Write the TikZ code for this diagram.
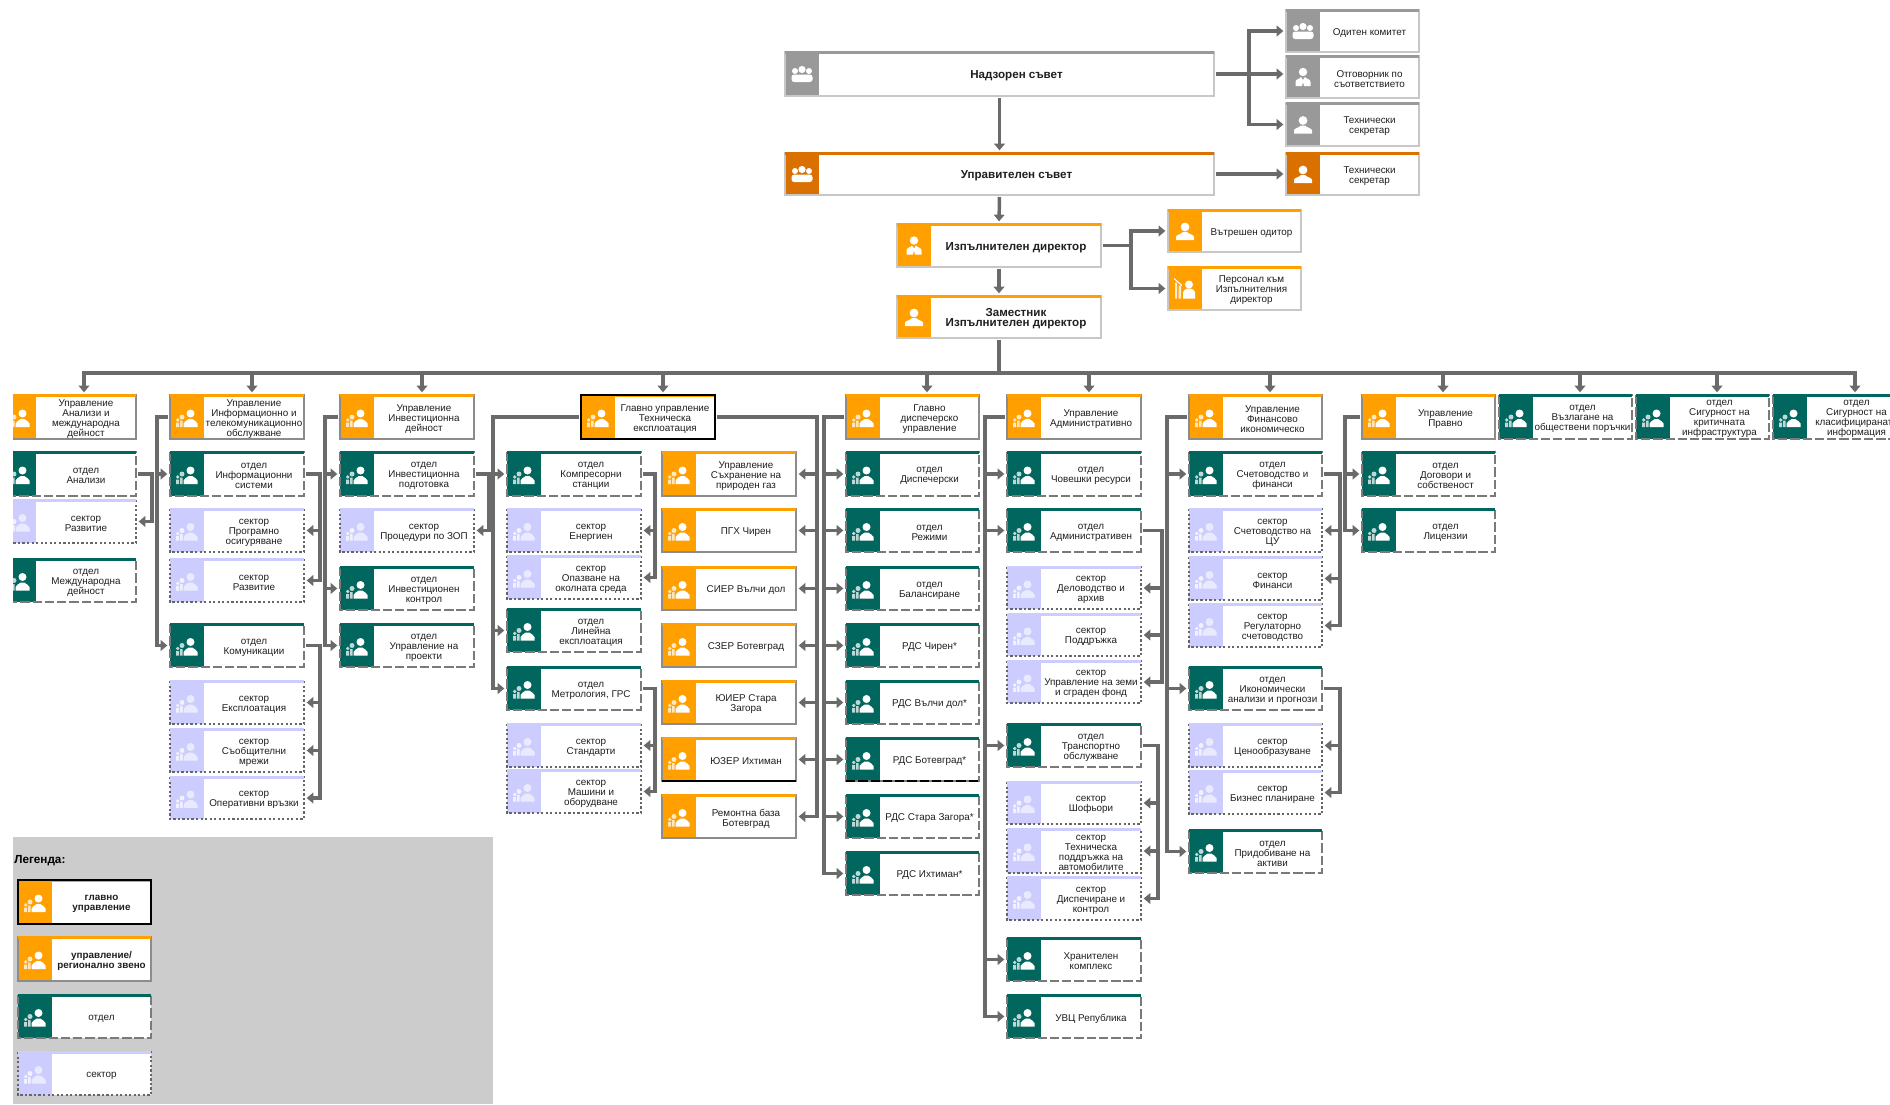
\documentclass[tikz,border=0pt]{standalone}
\usepackage{fontspec}
\setmainfont{Liberation Sans}
\usetikzlibrary{arrows.meta}
\definecolor{deptband}{HTML}{00665E}
\definecolor{secband}{HTML}{CCCCFF}
\definecolor{headband}{HTML}{FFA000}
\definecolor{mainband}{HTML}{FFA000}
\definecolor{topoband}{HTML}{FFA000}
\definecolor{gryband}{HTML}{999999}
\definecolor{dorband}{HTML}{D97000}
\definecolor{wirecol}{HTML}{6A6A6A}
\definecolor{legbg}{HTML}{CCCCCC}
\tikzset{
  cardbase/.style={rectangle,inner sep=0pt,outer sep=0pt,fill=white},
  headbox/.style={draw=black!45,line width=1.1pt},
  mainbox/.style={draw=black!45,line width=1.1pt},
  topobox/.style={draw=black!22,line width=1.1pt},
  grybox/.style={draw=black!22,line width=1.1pt},
  dorbox/.style={draw=black!22,line width=1.1pt},
  deptbox/.style={draw=black!52,line width=1.1pt,dash pattern=on 7pt off 2.2pt},
  secbox/.style={draw=black!60,line width=.9pt,dash pattern=on 1.7pt off 1.7pt},
  headic/.style={},mainic/.style={},topoic/.style={},gryic/.style={},doric/.style={},deptic/.style={},
  secic/.style={opacity=.6},
  txt/.style={align=center,inner sep=0pt,text=black!88,font=\fontsize{7.4}{7.5}\selectfont},
  wire/.style={draw=wirecol,line width=2.6pt,shorten <=1.5pt},
  arr/.style={wire,-{Triangle[width=8pt,length=5pt]},shorten >=2pt},
  blackrim/.style={draw=black,line width=1.9pt}
}
% icons, drawn round (0,0) in the band
\newcommand\icong{%
  \fill[white] (3.5,-3.5) circle (4);
  \fill[white] (-3.5,10) -- (-3.5,6.5) .. controls (-3.5,4.2) and (0,4.2) .. (1.8,2) -- (5.2,2) .. controls (7,4.2) and (10.5,4.2) .. (10.5,6.5) -- (10.5,10) -- cycle;
  \fill[white,opacity=.75] (-5,0) circle (2.5) (-9.3,3) circle (1.9);
  \fill[white,opacity=.75] (-7,3.5) rectangle (-4.5,10) (-11,5.5) rectangle (-8,10);
}
\newcommand\iconp{%
  \fill[white] (0,-4) circle (4.4);
  \fill[white] (-9,9) -- (-9,6) .. controls (-9,3.5) and (-4,3.5) .. (-2,1) -- (2,1) .. controls (4,3.5) and (9,3.5) .. (9,6) -- (9,9) -- cycle;
}
\newcommand\icons{%
  \fill[white] (0,-5) circle (4.2);
  \fill[white] (-7.5,9) -- (-7.5,5) .. controls (-7.5,2) and (-3,2) .. (-2,0) -- (0,3) -- (2,0) .. controls (3,2) and (7.5,2) .. (7.5,5) -- (7.5,9) -- (1,9) -- (0,5) -- (-1,9) -- cycle;
}
\newcommand\icont{%
  \fill[white] (0,-4.5) circle (3.6) (-7,-3) circle (3) (7,-3) circle (3);
  \fill[white,rounded corners=2pt] (-10.5,0.5) rectangle (10.5,8);
}
\newcommand\iconc{%
  \fill[white] (4,-4) circle (4);
  \fill[white] (-2,10) -- (-2,4) .. controls (-2,1.5) and (0,1.5) .. (2,0) -- (6,0) .. controls (8,1.5) and (10,1.5) .. (10,4) -- (10,10) -- cycle;
  \fill[white,opacity=.8] (-10,-6) rectangle (-8,10) (-6.5,-3) rectangle (-4,10);
  \draw[white,line width=.8pt] (-11,-10) -- (-3,-3);
}
% \card{type}{name}{x1}{y1}{x2}{y2}{icon}{text}
\newcommand\card[8]{%
  \node[cardbase,minimum width={(#5-#3)*0.75pt},minimum height={(#6-#4)*0.75pt}] (#2) at ({(#3+#5)/2},{(#4+#6)/2}) {};
  \fill[#1band] (#3,#4) rectangle ({#3+34},#6);
  \draw[#1box] (#3,#4) rectangle (#5,#6);
  \draw[#1band,line width=1.6pt] (#3,{#4+.5}) -- (#5,{#4+.5});
  \begin{scope}[shift={({#3+17},{(#4+#6)/2})},#1ic]\csname icon#7\endcsname\end{scope}
  \node[txt] (#2t) at ({(#3+34+#5)/2},{(#4+#6)/2+2}) {#8};
}
% \fan{source}{side}{x of trunk}{side of children}{children}
\newcommand\fan[5]{%
  \coordinate (tr) at (#3,0);
  \foreach \n in {#5} \draw[arr] (#1.#2) -- (#1.#2 -| tr) |- (\n.#4);
}
\newcommand\bigt{\bfseries\fontsize{8.7}{8.2}\selectfont}
\begin{document}
\begin{tikzpicture}[x=0.75pt,y=-0.75pt]
\useasboundingbox (0,0) rectangle (1890,1104);
\fill[white] (0,0) rectangle (1890,1104);
\begin{scope}
\clip (13,0) rectangle (1890,1104);
% legend panel
\fill[legbg] (13,837) rectangle (493,1104);
\node[txt,anchor=west,text=black,font=\bfseries\fontsize{8.8}{9}\selectfont] (legt) at (14,861) {Легенда:};
\card{main}{la}{18}{880}{151}{924}{g}{\textbf{главно}\\\textbf{управление}}
\draw[blackrim] (la.north west) rectangle (la.south east);
\card{head}{lb}{18}{937}{151}{981}{g}{\textbf{управление/}\\\textbf{регионално звено}}
\card{dept}{lc}{18}{995}{151}{1038}{g}{отдел}
\card{sec}{ld}{18}{1052}{151}{1095}{g}{сектор}
% top
\card{gry}{nad}{785}{52}{1214}{96}{t}{\bigt Надзорен съвет}
\card{dor}{upr}{785}{153}{1214}{195}{t}{\bigt Управителен съвет}
\card{topo}{izp}{897}{224}{1101}{267}{s}{\bigt Изпълнителен директор}
\card{topo}{zam}{897}{296}{1101}{338}{p}{\bigt Заместник\\\bigt Изпълнителен директор}
\card{gry}{odi}{1286}{10}{1419}{52}{t}{Одитен комитет}
\card{gry}{otg}{1286}{56}{1419}{98}{s}{Отговорник по\\съответствието}
\card{gry}{tsa}{1286}{103}{1419}{146}{p}{Технически\\секретар}
\card{dor}{tsb}{1286}{153}{1419}{195}{p}{Технически\\секретар}
\card{topo}{vod}{1168}{210}{1301}{252}{p}{Вътрешен одитор}
\card{topo}{per}{1168}{267}{1301}{310}{c}{Персонал към\\Изпълнителния\\директор}
% column 1
\card{head}{ha}{2}{395}{136}{439}{g}{Управление\\Анализи и\\международна\\дейност}
\card{dept}{aa}{2}{452}{136}{496}{g}{отдел\\Анализи}
\card{sec}{ab}{2}{500}{136}{543}{g}{сектор\\Развитие}
\card{dept}{ac}{2}{559}{136}{602}{g}{отдел\\Международна\\дейност}
% column 2
\card{head}{hb}{170}{395}{304}{439}{g}{Управление\\Информационно и\\телекомуникационно\\обслужване}
\card{dept}{ba}{170}{452}{304}{496}{g}{отдел\\Информационни\\системи}
\card{sec}{bb}{170}{509}{304}{552}{g}{сектор\\Програмно\\осигуряване}
\card{sec}{bc}{170}{559}{304}{602}{g}{сектор\\Развитие}
\card{dept}{bd}{170}{624}{304}{667}{g}{отдел\\Комуникации}
\card{sec}{be}{170}{681}{304}{724}{g}{сектор\\Експлоатация}
\card{sec}{bf}{170}{729}{304}{772}{g}{сектор\\Съобщителни\\мрежи}
\card{sec}{bg}{170}{777}{304}{819}{g}{сектор\\Оперативни връзки}
% column 3
\card{head}{hc}{340}{395}{474}{439}{g}{Управление\\Инвестиционна\\дейност}
\card{dept}{ca}{340}{452}{474}{496}{g}{отдел\\Инвестиционна\\подготовка}
\card{sec}{cb}{340}{509}{474}{552}{g}{сектор\\Процедури по ЗОП}
\card{dept}{cc}{340}{567}{474}{610}{g}{отдел\\Инвестиционен\\контрол}
\card{dept}{cd}{340}{624}{474}{667}{g}{отдел\\Управление на\\проекти}
% column 4
\card{main}{hd}{581}{395}{715}{439}{g}{Главно управление\\Техническа\\експлоатация}
\draw[blackrim] (hd.north west) rectangle (hd.south east);
\card{dept}{da}{507}{452}{641}{496}{g}{отдел\\Компресорни\\станции}
\card{sec}{db}{507}{509}{641}{552}{g}{сектор\\Енергиен}
\card{sec}{dc}{507}{556}{641}{599}{g}{сектор\\Опазване на\\околната среда}
\card{dept}{dd}{507}{609}{641}{652}{g}{отдел\\Линейна\\експлоатация}
\card{dept}{de}{507}{667}{641}{710}{g}{отдел\\Метрология, ГРС}
\card{sec}{df}{507}{724}{641}{767}{g}{сектор\\Стандарти}
\card{sec}{dg}{507}{770}{641}{813}{g}{сектор\\Машини и\\оборудване}
\card{head}{ea}{662}{452}{796}{496}{g}{Управление\\Съхранение на\\природен газ}
\card{head}{eb}{662}{509}{796}{552}{g}{ПГХ Чирен}
\card{head}{ec}{662}{567}{796}{610}{g}{СИЕР Вълчи дол}
\card{head}{ed}{662}{624}{796}{667}{g}{СЗЕР Ботевград}
\card{head}{ee}{662}{681}{796}{724}{g}{ЮИЕР Стара\\Загора}
\card{head}{ef}{662}{738}{796}{781}{g}{ЮЗЕР Ихтиман}
\draw[black,line width=.9pt] (ef.south west) -- (ef.south east);
\card{head}{eg}{662}{795}{796}{838}{g}{Ремонтна база\\Ботевград}
% column 5
\card{head}{he}{846}{395}{979}{439}{g}{Главно\\диспечерско\\управление}
\card{dept}{fa}{846}{452}{979}{496}{g}{отдел\\Диспечерски}
\card{dept}{fb}{846}{509}{979}{552}{g}{отдел\\Режими}
\card{dept}{fc}{846}{567}{979}{610}{g}{отдел\\Балансиране}
\card{dept}{fd}{846}{624}{979}{667}{g}{РДС Чирен*}
\card{dept}{fe}{846}{681}{979}{724}{g}{РДС Вълчи дол*}
\card{dept}{ff}{846}{738}{979}{781}{g}{РДС Ботевград*}
\draw[black,line width=.9pt,dash pattern=on 7pt off 2.2pt] (ff.south west) -- (ff.south east);
\card{dept}{fg}{846}{795}{979}{838}{g}{РДС Стара Загора*}
\card{dept}{fh}{846}{852}{979}{895}{g}{РДС Ихтиман*}
% column 6
\card{head}{hf}{1007}{395}{1141}{439}{g}{Управление\\Административно}
\card{dept}{ga}{1007}{452}{1141}{496}{g}{отдел\\Човешки ресурси}
\card{dept}{gb}{1007}{509}{1141}{552}{g}{отдел\\Административен}
\card{sec}{gc}{1007}{567}{1141}{609}{g}{сектор\\Деловодство и\\архив}
\card{sec}{gd}{1007}{614}{1141}{656}{g}{сектор\\Поддръжка}
\card{sec}{ge}{1007}{661}{1141}{703}{g}{сектор\\Управление на земи\\и сграден фонд}
\card{dept}{gf}{1007}{724}{1141}{767}{g}{отдел\\Транспортно\\обслужване}
\card{sec}{gg}{1007}{782}{1141}{824}{g}{сектор\\Шофьори}
\card{sec}{gh}{1007}{829}{1141}{873}{g}{сектор\\Техническа\\поддръжка на\\автомобилите}
\card{sec}{gi}{1007}{877}{1141}{920}{g}{сектор\\Диспечиране и\\контрол}
\card{dept}{gj}{1007}{938}{1141}{981}{g}{Хранителен\\комплекс}
\card{dept}{gk}{1007}{995}{1141}{1038}{g}{УВЦ Република}
% column 7
\card{head}{hg}{1189}{395}{1322}{439}{g}{Управление\\Финансово\\икономическо}
\card{dept}{ia}{1189}{452}{1322}{496}{g}{отдел\\Счетоводство и\\финанси}
\card{sec}{ib}{1189}{509}{1322}{552}{g}{сектор\\Счетоводство на\\ЦУ}
\card{sec}{ic}{1189}{557}{1322}{600}{g}{сектор\\Финанси}
\card{sec}{id}{1189}{604}{1322}{647}{g}{сектор\\Регулаторно\\счетоводство}
\card{dept}{ie}{1189}{667}{1322}{710}{g}{отдел\\Икономически\\анализи и прогнози}
\card{sec}{if}{1189}{724}{1322}{767}{g}{сектор\\Ценообразуване}
\card{sec}{ig}{1189}{771}{1322}{814}{g}{сектор\\Бизнес планиране}
\card{dept}{ih}{1189}{830}{1322}{873}{g}{отдел\\Придобиване на\\активи}
% column 8 and the last three
\card{head}{hh}{1362}{395}{1495}{439}{g}{Управление\\Правно}
\card{dept}{ja}{1362}{452}{1495}{496}{g}{отдел\\Договори и\\собственост}
\card{dept}{jb}{1362}{509}{1495}{552}{g}{отдел\\Лицензии}
\card{dept}{hi}{1499}{395}{1632}{439}{g}{отдел\\Възлагане на\\обществени поръчки}
\card{dept}{hj}{1636}{395}{1769}{439}{g}{отдел\\Сигурност на\\критичната\\инфраструктура}
\card{dept}{hk}{1773}{395}{1906}{439}{g}{отдел\\Сигурност на\\класифицираната\\информация}
% connectors, top
\draw[arr] (nad.south) -- (upr.north);
\draw[arr] (upr.south) -- (izp.north);
\draw[arr] (izp.south) -- (zam.north);
\coordinate (mid) at (nad.east -| otg.west);
\draw[arr] (nad.east) -- (mid);
\fan{nad}{east}{1249}{west}{odi,tsa}
\draw[arr] (upr.east) -- (upr.east -| tsb.west);
\fan{izp}{east}{1131}{west}{vod,per}
% bus
\coordinate (busl) at (84,373);
\coordinate (busr) at (1855,373);
\draw[wire,shorten <=0pt,line cap=rect] (busl) -- (busr);
\draw[wire] (zam.south) -- (zam.south |- busl);
\foreach \x/\n in {84/ha,252/hb,422/hc,663/hd,927/he,1089/hf,1270/hg,1443/hh,1580/hi,1717/hj,1855/hk}{
  \coordinate (drop) at (\x,373);
  \draw[arr,shorten <=0pt] (drop) -- (drop |- \n.north);
}
% connectors, columns
\tikzset{wire/.append style={line width=2.3pt}}
\fan{aa}{east}{152}{east}{ab}
\fan{hb}{west}{157}{west}{ba,bd}
\fan{ba}{east}{320}{east}{bb,bc}
\fan{bd}{east}{320}{east}{be,bf,bg}
\fan{hc}{west}{325}{west}{ca,cc,cd}
\fan{ca}{east}{489}{east}{cb}
\fan{hd}{west}{493}{west}{da,dd,de}
\fan{da}{east}{655}{east}{db,dc}
\fan{de}{east}{655}{east}{df,dg}
\fan{hd}{east}{817}{east}{ea,eb,ec,ed,ee,ef,eg}
\fan{he}{west}{824}{west}{fa,fb,fc,fd,fe,ff,fg,fh}
\fan{hf}{west}{985}{west}{ga,gb,gf,gj,gk}
\fan{gb}{east}{1162}{east}{gc,gd,ge}
\fan{gf}{east}{1158}{east}{gg,gh,gi}
\fan{hg}{west}{1167}{west}{ia,ie,ih}
\fan{ia}{east}{1340}{east}{ib,ic,id}
\fan{ie}{east}{1340}{east}{if,ig}
\fan{hh}{west}{1345}{west}{ja,jb}
\end{scope}
\end{tikzpicture}
\end{document}
